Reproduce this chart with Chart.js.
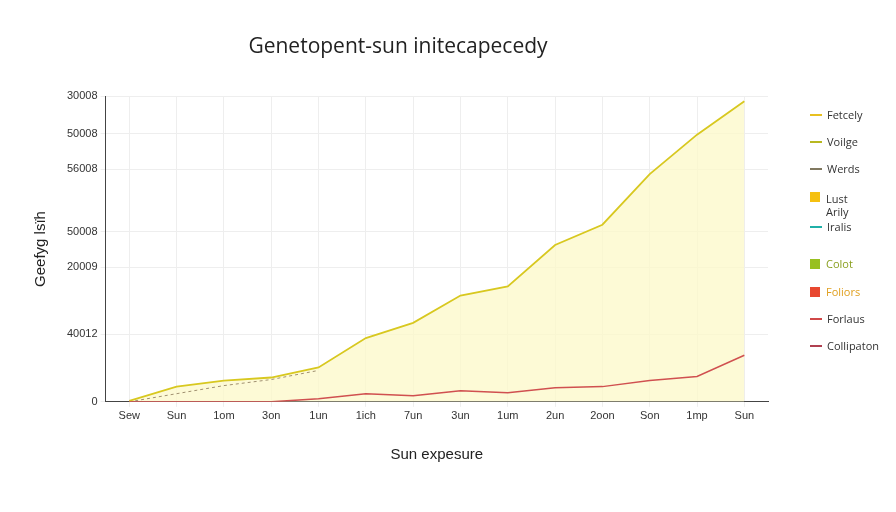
<!DOCTYPE html><html><head><meta charset="utf-8">
<script src="https://cdn.jsdelivr.net/npm/chart.js@4/dist/chart.umd.min.js"></script>
<style>
body{margin:0;background:#fff;font-family:"Open Sans",sans-serif}
#wrap{position:relative;width:896px;height:512px}
.lg{position:absolute;left:810px;font-size:11px;color:#333;display:flex;align-items:center;line-height:13px}
.sw{display:inline-block;width:12px;height:2px;margin-right:5px}
.bx{display:inline-block;width:10px;height:10px;margin-right:6px}
</style></head><body><div id="wrap"><canvas id="c" width="896" height="512"></canvas>
<div class="lg" style="top:108px"><span class="sw" style="background:#e8c020"></span>Fetcely</div>
<div class="lg" style="top:135px"><span class="sw" style="background:#b8b820"></span>Voilge</div>
<div class="lg" style="top:162px"><span class="sw" style="background:#807860"></span>Werds</div>
<div class="lg" style="top:192px;align-items:flex-start"><span class="bx" style="background:#f5c010"></span>Lust<br>Arily</div>
<div class="lg" style="top:220px"><span class="sw" style="background:#20b0a8"></span>Iralis</div>
<div class="lg" style="top:257px;color:#8aa020"><span class="bx" style="background:#98c020"></span>Colot</div>
<div class="lg" style="top:285px;color:#e0a020"><span class="bx" style="background:#e84830"></span>Foliors</div>
<div class="lg" style="top:312px"><span class="sw" style="background:#d04848"></span>Forlaus</div>
<div class="lg" style="top:339px"><span class="sw" style="background:#b04050"></span>Collipaton</div>
</div>
<script>
const categories=["Sew","Sun","1om","3on","1un","1ich","7un","3un","1um","2un","2oon","Son","1mp","Sun"];
const yellowVals=[1,15,21,24,34,63,78,105,114,155,175,225,264,297];
const dashedVals=[0,8,16,22,31,null,null,null,null,null,null,null,null,null];
const redVals=[0,0,0,0,3,8,6,11,9,14,15,21,25,46];
const tickVals=[0,67,133,168,230,265,302];
const tickLabels=["0","40012","20009","50008","56008","50008","30008"];
new Chart(document.getElementById('c'),{type:'line',
data:{labels:categories,datasets:[
{data:yellowVals,order:3,borderColor:'#d8c820',borderWidth:1.8,backgroundColor:'rgba(252,248,200,0.75)',fill:'origin',pointRadius:0,tension:0},
{data:dashedVals,order:2,borderColor:'#a09070',borderWidth:1,borderDash:[3,3],pointRadius:0,fill:false},
{data:redVals,order:1,borderColor:'#d05050',borderWidth:1.5,pointRadius:0,fill:false,tension:0}]},
options:{responsive:false,animation:false,
layout:{padding:{left:28,right:128,top:10,bottom:44}},
plugins:{legend:{display:false},title:{display:true,text:'Genetopent-sun initecapecedy',color:'#222',font:{size:21,family:'Open Sans',weight:'normal'},padding:{top:24,bottom:37}}},
scales:{
x:{offset:true,grid:{color:'#eeeeee',offset:false,tickLength:5},border:{color:'#444'},ticks:{color:'#333',font:{size:11}},
 title:{display:true,text:'Sun expesure',color:'#222',font:{size:15},padding:{top:20}}},
y:{min:0,max:302,grid:{color:'#eeeeee',tickLength:5},border:{color:'#444'},
 afterBuildTicks(s){s.ticks=tickVals.map(v=>({value:v}));},
 ticks:{color:'#333',font:{size:11},callback:(v)=>tickLabels[tickVals.indexOf(v)]},
 title:{display:true,text:'Geefyg lsïh',color:'#222',font:{size:15},padding:{bottom:14}}}}}});
</script></body></html>
